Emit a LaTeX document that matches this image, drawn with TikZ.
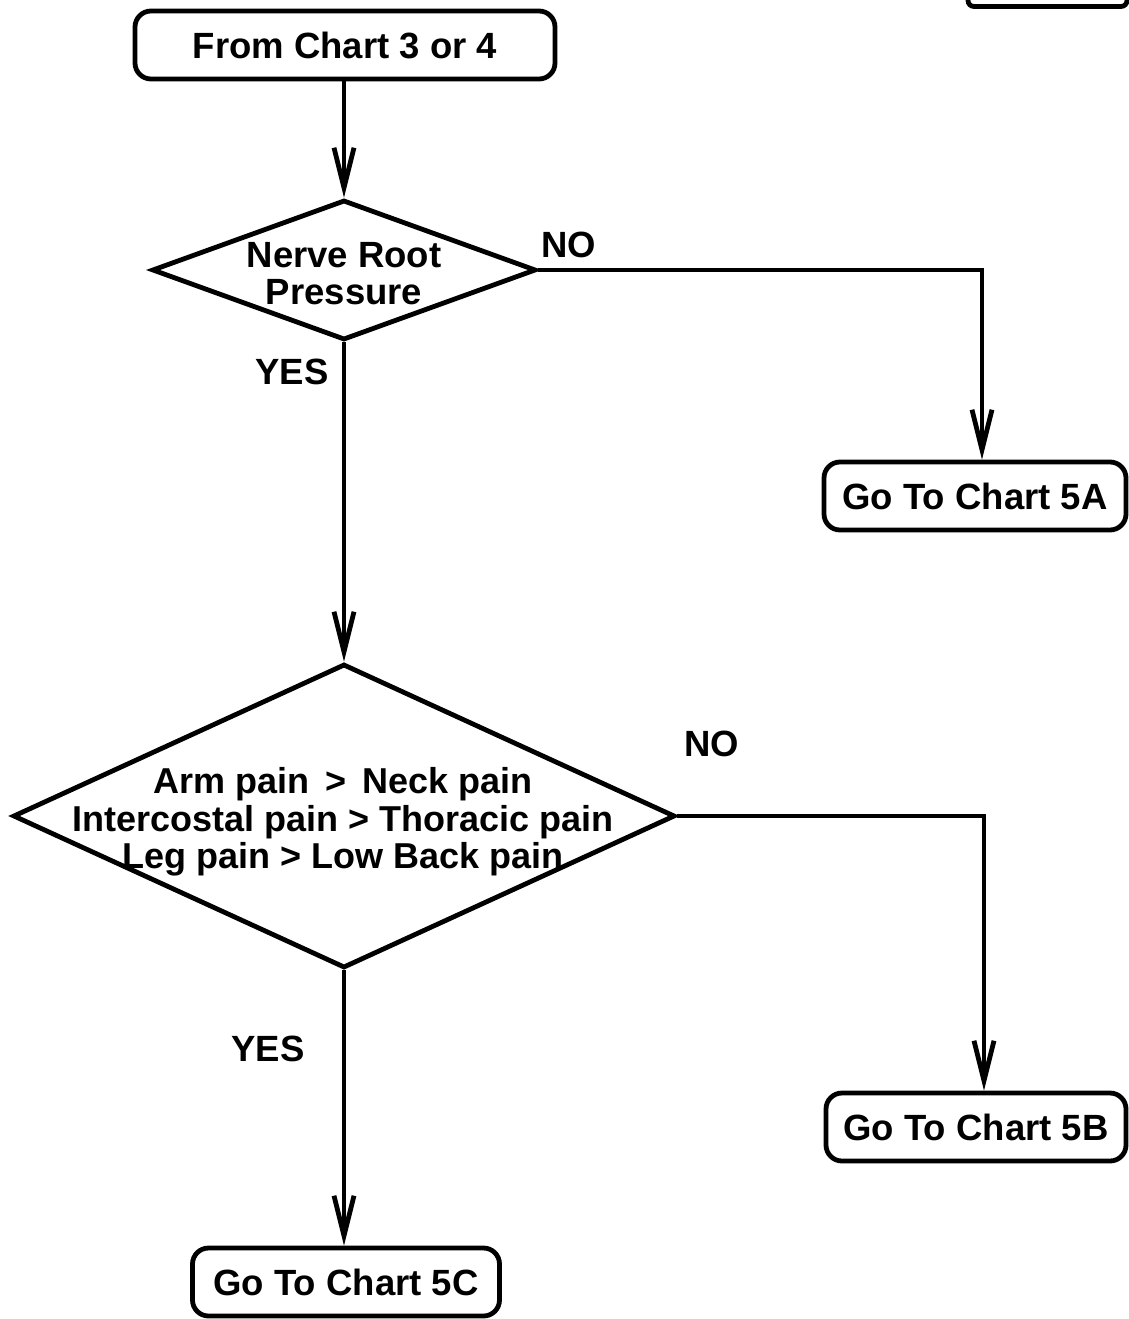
\documentclass[tikz,border=0pt]{standalone}
\usepackage{fontspec}
\setmainfont{Liberation Sans}
\usetikzlibrary{arrows.meta,shapes.geometric}
\begin{document}
\begin{tikzpicture}[x=1pt,y=-1pt,line width=4.8pt,
  every node/.style={font=\fontsize{36.5}{37}\selectfont\bfseries},
  chartbox/.style={draw,rounded corners=16pt,minimum height=68pt,inner sep=0pt},
  decision/.style={draw,diamond,inner sep=0pt},
  txt/.style={align=center,inner sep=0pt},
  lbl/.style={inner sep=0pt},
  arr/.style={-{Straight Barb[length=40pt,width=20pt]}}]
\useasboundingbox (0,0) rectangle (1129,1319);

% partial box at top right edge
\draw[rounded corners=6pt] (968,-12) -- (968,6.5) -- (1127,6.5) -- (1127,-12);

\node[chartbox,minimum width=420pt] (start) at (345,45) {From Chart 3 or 4};

\node[decision,minimum width=384pt,minimum height=140pt] (d1) at (344,270) {};
\node[txt] (d1t) at (344,274) {Nerve Root\\Pressure};

\node[decision,minimum width=662pt,minimum height=304pt] (d2) at (344,816) {};
\node[txt,font=\fontsize{36}{37.5}\selectfont\bfseries] (d2t) at (343,822) {Arm pain\, > \,Neck pain\\Intercostal pain > Thoracic pain\\Leg pain > Low Back pain};

\node[chartbox,minimum width=302pt] (a5) at (975,496) {Go To Chart 5A};
\node[chartbox,minimum width=300pt] (b5) at (976,1127) {Go To Chart 5B};
\node[chartbox,minimum width=307pt] (c5) at (346,1282) {Go To Chart 5C};

\node[lbl] (no1) at (569,245) {NO};
\node[lbl] (yes1) at (292,372) {YES};
\node[lbl] (no2) at (712,744) {NO};
\node[lbl] (yes2) at (268,1049) {YES};

\coordinate (k1) at (982,270);
\coordinate (k2) at (984,816);

\draw[arr] (d1.north |- start.south) -- (d1.north);
\draw[arr] (d1.south) -- (d2.north);
\draw[arr] (d2.south) -- (d2.south |- c5.north);
\draw[arr] (d1.east) -- (k1) -- (k1 |- a5.north);
\draw[arr] (d2.east) -- (k2) -- (k2 |- b5.north);
\end{tikzpicture}
\end{document}
